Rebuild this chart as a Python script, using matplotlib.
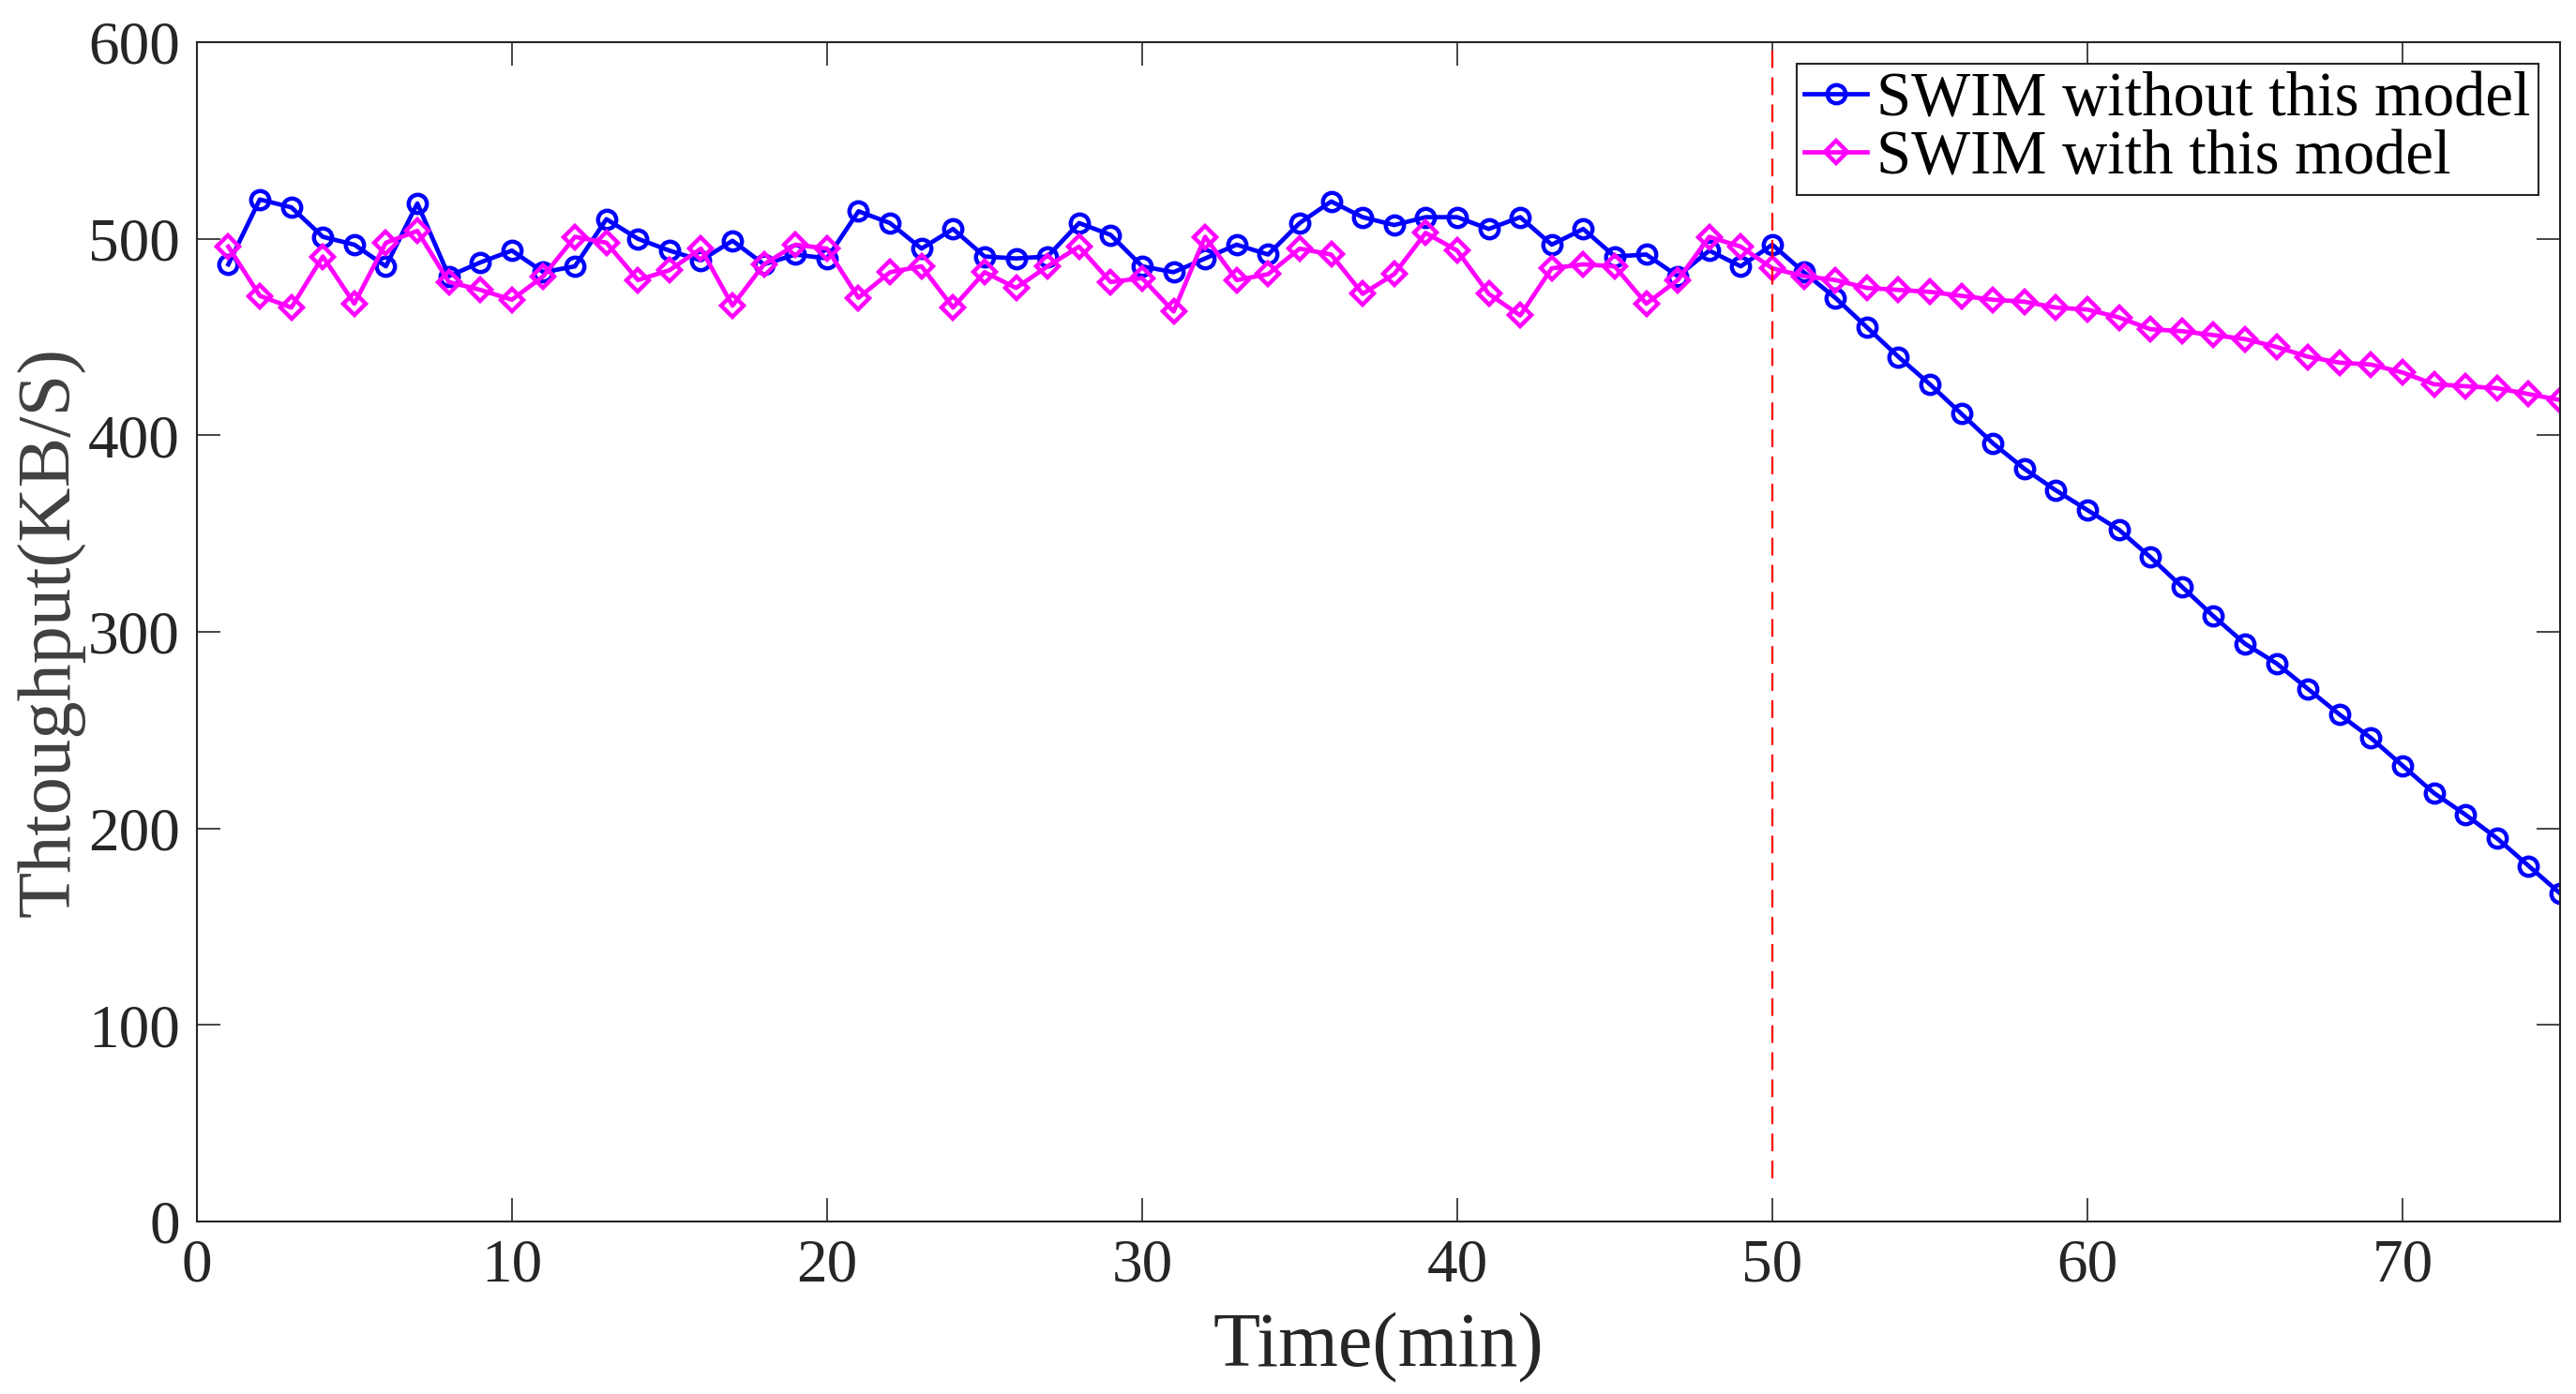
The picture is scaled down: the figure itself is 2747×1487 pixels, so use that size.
import numpy as np
import matplotlib
matplotlib.use("Agg")
import matplotlib.pyplot as plt
import matplotlib.ticker as ticker

# minutes 1..75
time_min = np.arange(1, 76)

without_model = [
    487, 520, 516, 501, 497, 486, 518, 481, 488, 494,
    483, 486, 510, 500, 494, 489, 499, 487, 492, 490,
    514, 508, 495, 505, 491, 490, 491, 508, 502, 486,
    483, 490, 497, 492, 508, 519, 511, 507, 511, 511,
    505, 511, 497, 505, 491, 492, 481, 494, 486, 497,
    483, 470, 455, 440, 426, 411, 396, 383, 372, 362,
    352, 338, 323, 308, 294, 284, 271, 258, 246, 232,
    218, 207, 195, 181, 167,
]

with_model = [
    496, 471, 465, 491, 467, 498, 504, 478, 474, 469,
    481, 501, 498, 479, 484, 495, 466, 487, 497, 495,
    470, 483, 486, 465, 483, 475, 486, 496, 478, 480,
    463, 501, 479, 482, 495, 492, 472, 482, 503, 494,
    472, 461, 485, 487, 486, 467, 479, 501, 496, 485,
    481, 479, 475, 474, 473, 471, 469, 468, 465, 464,
    460, 454, 453, 451, 449, 445, 440, 437, 436, 432,
    426, 425, 424, 421, 418,
]

labels = ["SWIM without this model", "SWIM with this model"]

# moment the model kicks in
split_time = 50
split_ymin = 22

plt.rcParams['font.family'] = ['Liberation Serif', 'DejaVu Serif']
dark = '#262626'

fig = plt.figure(figsize=(27.47, 14.87), dpi=100)
ax = fig.add_axes([0.0764, 0.1237, 0.9174, 0.846])

ax.plot(time_min, without_model, '-o', color='#0000ff', lw=3.4,
        markersize=14, markeredgewidth=3.2, markerfacecolor='none',
        label=labels[0])
ax.plot(time_min, with_model, '-D', color='#ff00ff', lw=3.4,
        markersize=12, markeredgewidth=3.2, markerfacecolor='none',
        label=labels[1])
ax.vlines(split_time, split_ymin, 600, colors='#ff0000', lw=1.6,
          linestyles=(0, (8.5, 4.5)))

ax.set_xlim(0, 75)
ax.set_ylim(0, 600)
ax.xaxis.set_major_locator(ticker.MultipleLocator(10))
ax.yaxis.set_major_locator(ticker.MultipleLocator(100))

ax.tick_params(direction='in', length=18, width=1.2, colors=dark,
               labelsize=47, pad=13, top=True, right=True)
for sp in ax.spines.values():
    sp.set_color(dark)
    sp.set_linewidth(1.5)

ax.set_xlabel("Time(min)", fontsize=59, color=dark, labelpad=14)
ax.set_ylabel("Thtoughput(KB/S)", fontsize=58, color='#404040', labelpad=2)

leg = ax.legend(loc='upper right', fontsize=48, handlelength=1.0,
                handletextpad=0.15, labelspacing=0.02, borderpad=0.12,
                borderaxespad=0.35, fancybox=False, framealpha=1)
leg.get_frame().set_edgecolor(dark)
leg.get_frame().set_linewidth(1.5)

fig.savefig("out.png", dpi=100)
